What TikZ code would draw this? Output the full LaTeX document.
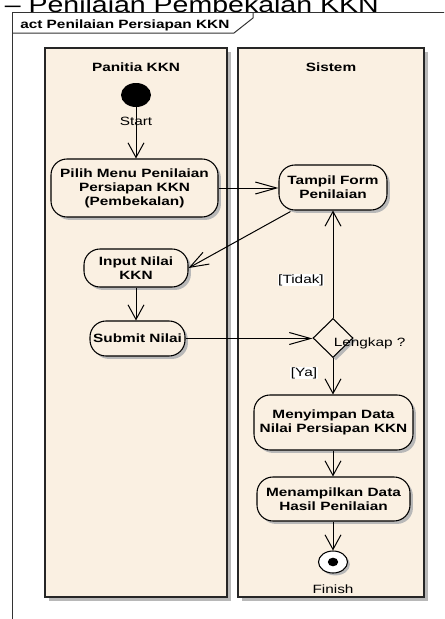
\documentclass[tikz,border=0pt]{standalone}
\usepackage{fontspec}
\setmainfont{Liberation Sans}[FakeStretch=1.28]
\usetikzlibrary{arrows.meta,shapes.geometric,shadows,calc}
\definecolor{lanefill}{HTML}{FAF0E2}
\definecolor{shadowgray}{HTML}{B8B8B8}
\begin{document}
\begin{tikzpicture}[x=0.75pt,y=-0.75pt,
  smallfont/.style={font=\fontsize{9}{10.5}\selectfont},
  boldfont/.style={font=\fontsize{9}{10.5}\selectfont\bfseries},
  lanebox/.style={draw=black!85, line width=1.1pt, fill=lanefill, inner sep=0pt,
    drop shadow={shadow xshift=3pt, shadow yshift=-3pt, fill=shadowgray, opacity=1}},
  actbox/.style={draw=black, line width=0.8pt, fill=lanefill, rounded corners=12pt,
    align=center, boldfont, inner sep=0pt,
    drop shadow={shadow xshift=2.2pt, shadow yshift=-2.2pt, fill=shadowgray, opacity=1}},
  decbox/.style={diamond, draw=black, line width=0.8pt, fill=lanefill, inner sep=0pt,
    minimum width=30pt, minimum height=29.25pt,
    drop shadow={shadow xshift=2.2pt, shadow yshift=-2.2pt, fill=shadowgray, opacity=1}},
  flow/.style={draw=black, line width=0.75pt},
  varr/.style={flow, -{Straight Barb[length=11pt, width=12pt, line width=0.75pt]}},
  harr/.style={flow, -{Straight Barb[length=16pt, width=9pt, line width=0.75pt]}},
  darr/.style={flow, -{Straight Barb[length=14pt, width=10pt, line width=0.75pt]}},
  guard/.style={smallfont, fill=white, inner sep=0.5pt}
]
\useasboundingbox (0,0) rectangle (444,619);
\clip (0,0) rectangle (444,619);

% cut-off heading
\node[anchor=base east, inner sep=0pt, font=\fontsize{16.7}{20}\selectfont] (heading) at (379,12) {– Penilaian Pembekalan KKN};

% frame
\draw[line width=0.75pt, black!80] (12,640) -- (12,12) -- (460,12);
\draw[line width=0.75pt, black!80] (12,33) -- (234,33) -- (253,18) -- (253,12);
\node[anchor=base west, inner sep=0pt, boldfont] (frametitle) at (20,28) {act Penilaian Persiapan KKN};

% lanes
\node[lanebox, minimum width=136.5pt, minimum height=411.75pt] (lane1) at (136,322.5) {};
\node[lanebox, minimum width=139.5pt, minimum height=411.75pt] (lane2) at (331,322.5) {};
\node[boldfont] (lane1title) at (136,67) {Panitia KKN};
\node[boldfont] (lane2title) at (331,67) {Sistem};

% nodes
\node[ellipse, fill=black, minimum width=22.5pt, minimum height=18pt, inner sep=0pt] (start) at (136,95) {};
\node[actbox, minimum width=125.25pt, minimum height=43.5pt] (pilih) at (134.5,188) {Pilih Menu Penilaian\\Persiapan KKN\\(Pembekalan)};
\node[actbox, minimum width=81pt, minimum height=33.75pt] (tampil) at (333,187.5) {Tampil Form\\Penilaian};
\node[actbox, minimum width=78pt, minimum height=28.5pt] (input) at (136,268) {Input Nilai\\KKN};
\node[actbox, minimum width=71.25pt, minimum height=26.25pt] (submit) at (137.5,338.5) {Submit Nilai};
\node[decbox] (dec) at (333,338) {};
\node[actbox, minimum width=119.25pt, minimum height=41.25pt] (simpan) at (333.5,422.5) {Menyimpan Data\\Nilai Persiapan KKN};
\node[actbox, minimum width=114.75pt, minimum height=33pt] (tampilkan) at (333.5,499) {Menampilkan Data\\Hasil Penilaian};
\node[ellipse, draw=black, line width=0.8pt, fill=white, minimum width=21.75pt, minimum height=16.5pt, inner sep=0pt,
  drop shadow={shadow xshift=1.8pt, shadow yshift=-1.8pt, fill=shadowgray, opacity=1}] (fin) at (333,562) {};
\fill[black] (fin.center) ellipse (5.2 and 4.3);

% edges
\draw[varr] (start.south) -- (start |- pilih.north);
\draw[harr] (pilih.east) -- (pilih.east -| tampil.west);
\draw[darr] ($(tampil.south west)+(12,1)$) -- (input.east);
\draw[varr] (input.south) -- (input.south |- submit.north);
\draw[harr] (submit.east) -- (submit.east -| dec.west);
\draw[varr] (dec.north) -- (dec.north |- tampil.south);
\draw[varr] (dec.south) -- (dec.south |- simpan.north);
\draw[varr] (simpan.south -| dec) -- (dec |- tampilkan.north);
\draw[varr] (tampilkan.south -| dec) -- (fin.north);

% labels
\node[smallfont, inner sep=0pt] (startlbl) at (136,121) {Start};
\node[smallfont, inner sep=0pt] (finlbl) at (333,589) {Finish};
\node[guard] (tidak) at (301,280) {[Tidak]};
\node[guard] (ya) at (304,373) {[Ya]};
\node[smallfont, anchor=west, inner sep=0pt] (lengkap) at (333.5,343) {Lengkap ?};
\end{tikzpicture}
\end{document}
